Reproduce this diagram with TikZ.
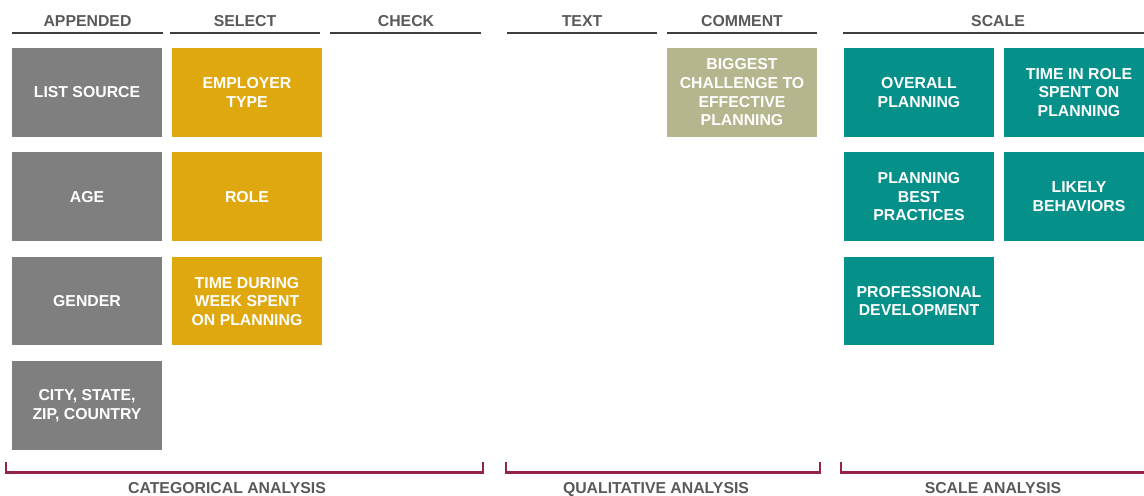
\documentclass[tikz,border=0pt]{standalone}
\usepackage{fontspec}
\setmainfont{Liberation Sans}
\usetikzlibrary{positioning}
\definecolor{CGray}{HTML}{7F7F7F}
\definecolor{CGold}{HTML}{DFA80F}
\definecolor{CKhaki}{HTML}{B5B58E}
\definecolor{CTeal}{HTML}{06908A}
\definecolor{CHead}{HTML}{595959}
\definecolor{CRule}{HTML}{3F3F3F}
\definecolor{CMaroon}{HTML}{94234A}

\begin{document}
\begin{tikzpicture}[x=0.02cm, y=-0.02cm,
    box/.style={minimum width=3cm, minimum height=1.77cm, inner sep=0pt, align=center,
        text=white, font=\bfseries\fontsize{9}{10.6}\selectfont},
    head/.style={anchor=base, inner sep=0pt, text=CHead, font=\bfseries\fontsize{9}{10.6}\selectfont},
    rule/.style={CRule, line width=0.85pt},
    brace/.style={CMaroon, line width=1.4pt}]

    % Frame
    \useasboundingbox (0,0) rectangle (1144,496);
    \clip (0,0) rectangle (1144,496);

    % Column headers
    \node[head] (hAppended) at (87.5,26.7) {APPENDED};
    \node[head] (hSelect) at (245,26.7) {SELECT};
    \node[head] (hCheck) at (406,26.7) {CHECK};
    \node[head] (hText) at (582,26.7) {TEXT};
    \node[head] (hComment) at (742,26.7) {COMMENT};
    \node[head] (hScale) at (998,26.7) {SCALE};
    \draw[rule] (12,33) -- (163,33);
    \draw[rule] (170,33) -- (320,33);
    \draw[rule] (330,33) -- (481,33);
    \draw[rule] (507,33) -- (657,33);
    \draw[rule] (667,33) -- (817,33);
    \draw[rule] (843,33) -- (1144,33);

    % Appended
    \node[box, fill=CGray] (source) at (87,92.3) {LIST SOURCE};
    \node[box, fill=CGray] (age) at (87,196.7) {AGE};
    \node[box, fill=CGray] (gender) at (87,301.2) {GENDER};
    \node[box, fill=CGray] (city) at (87,405.7) {CITY, STATE,\\ZIP, COUNTRY};

    % Select
    \node[box, fill=CGold] (employer) at (247,92.3) {EMPLOYER\\TYPE};
    \node[box, fill=CGold] (role) at (247,196.7) {ROLE};
    \node[box, fill=CGold] (weektime) at (247,301.2) {TIME DURING\\WEEK SPENT\\ON PLANNING};

    % Comment
    \node[box, fill=CKhaki] (challenge) at (742,92.3) {BIGGEST\\CHALLENGE TO\\EFFECTIVE\\PLANNING};

    % Scale
    \node[box, fill=CTeal] (overall) at (919,92.3) {OVERALL\\PLANNING};
    \node[box, fill=CTeal] (roletime) at (1079,92.3) {TIME IN ROLE\\SPENT ON\\PLANNING};
    \node[box, fill=CTeal] (practices) at (919,196.7) {PLANNING\\BEST\\PRACTICES};
    \node[box, fill=CTeal] (behaviors) at (1079,196.7) {LIKELY\\BEHAVIORS};
    \node[box, fill=CTeal] (development) at (919,301.2) {PROFESSIONAL\\DEVELOPMENT};

    % Brackets
    \draw[brace] (6,462) -- (6,472.5) -- (483,472.5) -- (483,462);
    \draw[brace] (506,462) -- (506,472.5) -- (820,472.5) -- (820,462);
    \draw[brace] (841,462) -- (841,472.5) -- (1150,472.5);
    \node[head] (categorical) at (227,494) {CATEGORICAL ANALYSIS};
    \node[head] (qualitative) at (656,494) {QUALITATIVE ANALYSIS};
    \node[head] (scaleAnalysis) at (993,494) {SCALE ANALYSIS};

\end{tikzpicture}
\end{document}
